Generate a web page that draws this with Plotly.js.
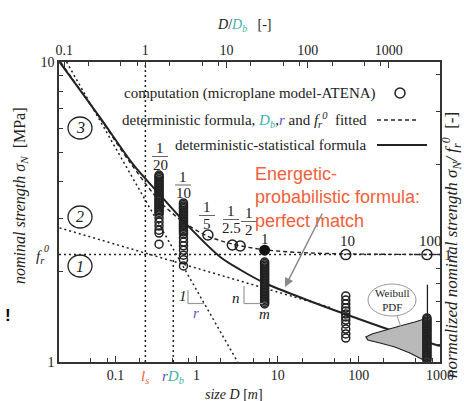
<!DOCTYPE html>
<html><head><meta charset="utf-8">
<script src="https://cdn.plot.ly/plotly-3.0.1.min.js"></script>
<style>html,body{margin:0;padding:0;background:#fff}#chart{width:464px;height:401px}</style>
</head><body><div id="chart"></div>
<script>
// ---------------- data (D in m, sigma_N in MPa) ----------------
const fr0 = 2.28;      // MPa, tensile strength level
const Db = 0.234;      // m
const ls = 0.234;      // m
const rDb = 0.517;     // m

// scale labels of the computed beams and their sizes
const scaleLabels = ['1/20', '1/10', '1/5', '1/2.5', '1/2', '1', '10', '100'];
const scaleD      = [0.345, 0.69, 1.38, 2.76, 3.45, 6.9, 69, 690];

// Monte-Carlo computations (microplane model - ATENA), sigma_N per size
const sig_1_20 = [4.20, 4.153, 4.11, 4.058, 4.01, 3.966, 3.92, 3.876, 3.83, 3.788, 3.74, 3.702, 3.66, 3.617, 3.58, 3.535,
                  3.49, 3.455, 3.41, 3.376, 3.34, 3.299, 3.26, 3.224, 3.19, 3.151, 3.11, 3.02, 2.93, 2.84, 2.75, 2.69, 2.47];
const sig_1_10 = [3.39, 3.350, 3.31, 3.273, 3.24, 3.199, 3.16, 3.126, 3.09, 3.055, 3.02, 2.985, 2.95, 2.917, 2.88, 2.851,
                  2.82, 2.786, 2.75, 2.713, 2.67, 2.59, 2.51, 2.44, 2.36, 2.27, 2.19, 2.09];
const sig_1    = [2.154, 2.130, 2.105, 2.081, 2.058, 2.034, 2.011, 1.988, 1.965, 1.943, 1.920, 1.898, 1.877, 1.855, 1.834,
                  1.813, 1.792, 1.772, 1.751, 1.731, 1.711, 1.692, 1.672, 1.653, 1.634, 1.616, 1.597, 1.579, 1.561];
const sig_10   = [1.660, 1.609, 1.561, 1.514, 1.479, 1.445, 1.413, 1.380, 1.339, 1.288, 1.240, 1.202];
const sig_100  = [1.402, 1.386, 1.370, 1.354, 1.339, 1.323, 1.308, 1.293, 1.279, 1.264, 1.249, 1.235, 1.221, 1.207, 1.193,
                  1.179, 1.166, 1.153, 1.139, 1.126, 1.113, 1.101, 1.088, 1.076, 1.063, 1.051, 1.039, 1.027, 1.015];
// deterministic computations (single results)
const detD   = [1.38, 2.76, 3.45, 69, 690];
const detSig = [2.65, 2.455, 2.436, 2.28, 2.28];
const fullD   = [6.9];
const fullSig = [2.36];

// deterministic-statistical formula (solid)
const solidD   = [0.0205, 0.0654, 0.167, 0.329, 0.769, 1.96, 3.45, 7.0, 23.0, 67.5, 241, 995];
const solidSig = [10, 6.50, 4.54, 3.69, 2.86, 2.24, 2.03, 1.83, 1.61, 1.445, 1.279, 1.13];
// deterministic formula, Db, r, fr0 fitted (dashed)
const detFD   = [0.0211, 0.0654, 0.1529, 0.3577, 0.686, 1.354, 2.749, 6.43, 18.86, 77.7, 995];
const detFSig = [10, 6.457, 4.607, 3.415, 2.929, 2.630, 2.474, 2.371, 2.317, 2.291, 2.282];
// asymptotes
const steepD = [0.025, 3.21];   const steepSig = [10, 1];
const weibD  = [0.0205, 44.1];  const weibSig  = [2.80, 1.52];
const fr0D   = [0.0202, 1000];
// Weibull PDF at the largest size
const pdfD   = [700, 490, 320, 209, 145, 122, 129, 182, 278, 425, 597, 700];
const pdfSig = [1.402, 1.359, 1.318, 1.279, 1.240, 1.212, 1.184, 1.157, 1.122, 1.072, 1.023, 1.0];
const pdfBaseSig = [1.0, 1.81];

// tick labels
const xTicks = [0.1, 1, 10, 100, 1000];
const xTickText = ['0.1', '1', '10', '100', '1000'];
const xMinor = [0.02, 0.05, 0.08, 0.2, 0.5, 0.8, 2, 5, 8, 20, 50, 80, 200, 500, 800];
const yTicks = [1, 10];
const yTickText = ['1', '10'];
const yMinor = [2, 3, 4, 5, 6, 7, 8, 9];
const y2Ticks = [1];
const y2Minor = [0.5, 0.6, 0.7, 0.8, 0.9, 2, 3, 4];

// ---------------- styling ----------------
const SERIF = 'Liberation Serif, Times New Roman, serif';
const SANS = 'Liberation Sans, Arial, sans-serif';
const INK = '#222';
const TEAL = '#3fb3ad';
const PURPLE = '#6650c8';
const RED = '#f0603a';
const GRAY = '#999';
const X = px => (px - 59) / 381;
const Y = py => (362 - py) / 300;

const L = (x, y, dash, width) => ({x, y, mode: 'lines', line: {color: INK, width: width || 1.4, dash: dash || 'solid'}, hoverinfo: 'skip', showlegend: false});
const col = (D, s) => ({x: s.map(() => D), y: s, mode: 'markers', marker: {symbol: 'circle-open', size: 8, color: INK, line: {width: 1.5, color: INK}}, showlegend: false, hoverinfo: 'skip'});

const traces = [
  L([ls, ls], [1, 10], '2px,3px', 1.5),
  L([rDb, rDb], [1, 2.2], '2px,3px', 1.5),
  L(fr0D, [fr0, fr0], '2px,3px', 1.5),
  L(steepD, steepSig, '2px,3px', 1.5),
  L(weibD, weibSig, '2px,3px', 1.5),
  Object.assign(L(detFD, detFSig, '4px,3px', 1.4), {line: {color: INK, width: 1.4, dash: '4px,3px', shape: 'spline', smoothing: 0.8}}),
  Object.assign(L(solidD, solidSig, 'solid', 2), {line: {color: INK, width: 2, shape: 'spline', smoothing: 0.8}}),
  {x: pdfD, y: pdfSig, mode: 'lines', fill: 'toself', fillcolor: '#b9b9b9', line: {color: INK, width: 1.2}, showlegend: false, hoverinfo: 'skip'},
  L([700, 700], pdfBaseSig, 'solid', 1.3),
  col(scaleD[0], sig_1_20),
  col(scaleD[1], sig_1_10),
  col(scaleD[5], sig_1),
  col(scaleD[6], sig_10),
  col(scaleD[7], sig_100),
  {x: detD, y: detSig, mode: 'markers', marker: {symbol: 'circle-open', size: 10, color: INK, line: {width: 1.5, color: INK}}, showlegend: false, hoverinfo: 'skip'},
  {x: fullD, y: fullSig, mode: 'markers', marker: {symbol: 'circle', size: 11, color: '#111'}, showlegend: false, hoverinfo: 'skip'},
  {x: [1], y: [1], xaxis: 'x2', yaxis: 'y2', mode: 'markers', marker: {opacity: 0}, showlegend: false, hoverinfo: 'skip'}
];

const tickFont = {family: SERIF, size: 14, color: INK};
const axBase = {type: 'log', showgrid: false, zeroline: false, showline: true, linecolor: '#333', linewidth: 1.6,
  ticks: 'inside', ticklen: 6, tickwidth: 1.2, tickcolor: '#333', tickfont: tickFont, tickmode: 'array', fixedrange: true};
const minor = vals => ({tickmode: 'array', tickvals: vals, ticks: 'inside', ticklen: 4, tickwidth: 1, tickcolor: '#333'});

const ann = [];
const T = (px, py, text, o) => ann.push(Object.assign({xref: 'paper', yref: 'paper', x: X(px), y: Y(py), text, showarrow: false,
  xanchor: 'center', yanchor: 'middle', font: {family: SERIF, size: 13, color: INK}}, o || {}));

// titles
T(244, 25, '<i>D</i>/<i><span style="color:' + TEAL + '">D<sub>b</sub></span></i>   [-]', {font: {family: SERIF, size: 14, color: INK}});
T(234, 394, '<i>size D</i> [<i>m</i>]', {font: {family: SERIF, size: 14, color: INK}});
T(20, 196, '<i>nominal strength σ<sub>N</sub></i>  [MPa]', {textangle: -90, font: {family: SERIF, size: 16, color: INK}});
T(451, 245, '<i>normalized nominal strength σ<sub>N</sub>/ f<sub>r</sub><sup>0</sup></i>  [-]', {textangle: -90, font: {family: SERIF, size: 17, color: INK}});
// special axis labels
T(145, 377, '<i><span style="color:' + RED + '">l<sub>s</sub></span></i>', {font: {family: SERIF, size: 15, color: RED}});
T(173, 377, '<i><span style="color:' + PURPLE + '">r</span><span style="color:' + TEAL + '">D<sub>b</sub></span></i>', {font: {family: SERIF, size: 15, color: INK}});
T(40, 257, '<i>f<sub>r</sub></i>', {font: {family: SERIF, size: 15, color: INK}});
T(46, 248, '<i>0</i>', {font: {family: SERIF, size: 10, color: INK}});
// legend
const LEG = {family: SERIF, size: 15, color: INK};
T(378, 93, 'computation (microplane model-ATENA)', {xanchor: 'right', font: LEG});
T(369, 120, 'deterministic formula, <i><span style="color:' + TEAL + '">D<sub>b</sub></span></i>,<i><span style="color:' + PURPLE + '">r</span></i> and <i>f<sub>r</sub><sup>0</sup></i>  fitted', {xanchor: 'right', font: LEG});
T(369, 145, 'deterministic-statistical formula', {xanchor: 'right', font: LEG});
// red remark
T(253, 197, 'Energetic-<br>probabilistic formula:<br>perfect match', {xanchor: 'left', align: 'left', font: {family: SANS, size: 18, color: RED}});
ann.push({xref: 'paper', yref: 'paper', x: X(285), y: Y(287), ax: 38, ay: -75, text: '', showarrow: true,
  arrowcolor: '#8a8a8a', arrowwidth: 1.5, arrowhead: 2, arrowsize: 1.2});
// scale labels
const fracPos = [[160, 148, 165], [183, 177, 193], [207, 207, 224], [231, 211, 228], [249, 213, 230]];
const shapes = [];
const line = (x0, y0, x1, y1, color, width, dash) => shapes.push({type: 'line', xref: 'paper', yref: 'paper',
  x0: X(x0), y0: Y(y0), x1: X(x1), y1: Y(y1), line: {color, width: width || 1, dash: dash || 'solid'}});
fracPos.forEach((p, i) => {
  const parts = scaleLabels[i].split('/');
  T(p[0], p[1], parts[0], {font: {family: SERIF, size: 15, color: INK}});
  T(p[0], p[2], parts[1], {font: {family: SERIF, size: 15, color: INK}});
  line(p[0] - 8, (p[1] + p[2]) / 2, p[0] + 8, (p[1] + p[2]) / 2, '#666', 1);
});
T(265, 239, scaleLabels[5], {font: {family: SERIF, size: 15, color: INK}});
T(347, 241, scaleLabels[6], {font: {family: SERIF, size: 15, color: INK}});
T(430, 241, scaleLabels[7], {font: {family: SERIF, size: 15, color: INK}});
// regime numbers
[[3, 128], [2, 217], [1, 266]].forEach(([n, cy]) => {
  shapes.push({type: 'circle', xref: 'paper', yref: 'paper', x0: X(68), x1: X(92), y0: Y(cy + 11), y1: Y(cy - 11), line: {color: INK, width: 1.3}});
  T(80, cy, '<i>' + n + '</i>', {font: {family: SERIF, size: 16, color: INK}});
});
// slope triangles
line(188, 290, 188, 303.5, GRAY, 1.2); line(188, 303.5, 204, 303.5, GRAY, 1.2);
T(183, 296, '<i>1</i>', {font: {family: SERIF, size: 15, color: INK}});
T(196, 313, '<i>r</i>', {font: {family: SERIF, size: 15, color: PURPLE}});
line(244, 286, 244, 303.5, GRAY, 1.2); line(244, 303.5, 263, 303.5, GRAY, 1.2);
T(236, 298, '<i>n</i>', {font: {family: SERIF, size: 15, color: INK}});
T(264, 314, '<i>m</i>', {font: {family: SERIF, size: 15, color: INK}});
// Weibull PDF callout
shapes.push({type: 'circle', xref: 'paper', yref: 'paper', x0: X(368), x1: X(416), y0: Y(316), y1: Y(284), line: {color: GRAY, width: 1}});
line(397, 316, 401, 327, GRAY, 1);
T(392, 300, 'Weibull<br>PDF', {font: {family: SERIF, size: 11, color: INK}});
// legend symbols
shapes.push({type: 'circle', xref: 'paper', yref: 'paper', x0: X(395), x1: X(405), y0: Y(98), y1: Y(88), line: {color: INK, width: 1.5}});
line(377, 120, 417, 120, INK, 1.4, '4px,3px');
line(377, 145, 427, 145, INK, 2);
// stray mark at left
T(8, 315, '<b>!</b>', {font: {family: SANS, size: 17, color: '#000'}});

const layout = {
  width: 464, height: 401, margin: {l: 59, r: 24, t: 62, b: 39, pad: 0},
  paper_bgcolor: '#fff', plot_bgcolor: '#fff', showlegend: false,
  xaxis: Object.assign({}, axBase, {range: [-1.695, 3.0], tickvals: xTicks, ticktext: xTickText, minor: minor(xMinor), anchor: 'y'}),
  xaxis2: Object.assign({}, axBase, {range: [-1.064, 3.631], tickvals: xTicks, ticktext: xTickText, minor: minor(xMinor), overlaying: 'x', side: 'top', anchor: 'y'}),
  yaxis: Object.assign({}, axBase, {range: [0, 1], tickvals: yTicks, ticktext: yTickText, minor: minor(yMinor), anchor: 'x'}),
  yaxis2: Object.assign({}, axBase, {range: [Math.log10(1 / fr0), Math.log10(10 / fr0)], tickvals: y2Ticks, ticktext: ['1'], minor: minor(y2Minor), overlaying: 'y', side: 'right', anchor: 'x'}),
  annotations: ann, shapes: shapes
};
Plotly.newPlot('chart', traces, layout, {staticPlot: true, displayModeBar: false});
</script></body></html>
